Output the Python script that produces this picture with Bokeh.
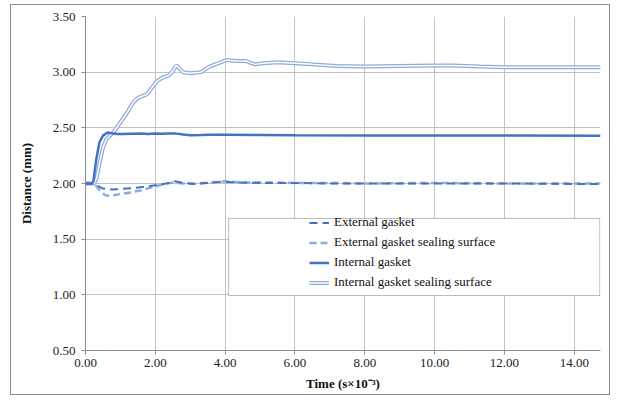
from bokeh.plotting import figure
from bokeh.models import (Range1d, Legend, LegendItem, BoxAnnotation, FixedTicker,
                          NumeralTickFormatter)
from bokeh.embed import file_html
from bokeh.resources import INLINE

# ---- data (time in s x 10^-3, distance in mm) ----
eg_t = [0, 0.25, 0.35, 0.5, 0.7, 1.0, 1.4, 1.8, 2.1, 2.4, 2.55, 2.8, 3.1, 3.5, 3.9,
        4.3, 5.0, 6.0, 7.0, 8.0, 10.0, 12.0, 14.75]
eg_y = [2.00, 2.00, 1.98, 1.955, 1.945, 1.95, 1.96, 1.975, 1.99, 2.005, 2.02, 2.005,
        1.995, 2.005, 2.015, 2.01, 2.005, 2.005, 2.0, 2.0, 2.0, 2.0, 1.995]

es_t = [0, 0.25, 0.35, 0.45, 0.6, 0.8, 1.0, 1.3, 1.6, 1.9, 2.2, 2.5, 2.8, 3.2, 3.6,
        4.0, 4.5, 5.0, 6.0, 7.0, 8.0, 10.0, 12.0, 14.75]
es_y = [2.00, 2.00, 1.96, 1.92, 1.89, 1.895, 1.905, 1.92, 1.94, 1.965, 1.99, 2.01,
        2.0, 2.0, 2.01, 2.02, 2.01, 2.01, 2.005, 2.005, 2.0, 2.005, 2.0, 2.0]

ig_t = [0, 0.15, 0.22, 0.31, 0.4, 0.5, 0.63, 0.75, 0.9, 1.1, 1.3, 1.6, 1.8, 2.0, 2.2,
        2.4, 2.6, 2.8, 3.0, 3.3, 3.6, 4.0, 5.0, 6.0, 8.0, 10.0, 12.0, 14.75]
ig_y = [2.00, 2.00, 2.01, 2.22, 2.37, 2.43, 2.458, 2.452, 2.445, 2.445, 2.447, 2.45,
        2.445, 2.45, 2.446, 2.45, 2.448, 2.44, 2.433, 2.435, 2.438, 2.437, 2.435,
        2.433, 2.432, 2.432, 2.431, 2.43]

is_t = [0, 0.25, 0.32, 0.4, 0.5, 0.6, 0.8, 1.0, 1.2, 1.35, 1.5, 1.75, 1.9, 2.05, 2.2,
        2.38, 2.5, 2.6, 2.7, 2.8, 3.0, 3.3, 3.55, 3.8, 4.05, 4.3, 4.6, 4.85, 5.1, 5.5,
        6.0, 6.5, 7.2, 8.0, 9.0, 10.0, 10.5, 11.3, 12.0, 13.0, 14.0, 14.75]
is_y = [2.0, 2.0, 2.05, 2.18, 2.32, 2.40, 2.46, 2.55, 2.64, 2.72, 2.77, 2.80, 2.86,
        2.92, 2.95, 2.97, 3.01, 3.06, 3.03, 3.00, 2.99, 3.00, 3.05, 3.08, 3.11, 3.10,
        3.10, 3.07, 3.08, 3.09, 3.08, 3.07, 3.055, 3.05, 3.055, 3.06, 3.06, 3.05,
        3.045, 3.045, 3.045, 3.045]

x_ticks = [0, 2, 4, 6, 8, 10, 12, 14]
y_ticks = [0.5, 1.0, 1.5, 2.0, 2.5, 3.0, 3.5]
labels = ["External gasket", "External gasket sealing surface",
          "Internal gasket", "Internal gasket sealing surface"]

FONT = "Liberation Serif"
DARK = "#4472C4"
LIGHT = "#8FAADC"

p = figure(width=600, height=391, output_backend="svg", toolbar_location=None,
           x_range=Range1d(0, 14.75), y_range=Range1d(0.5, 3.5),
           min_border_left=74, min_border_right=11, min_border_top=11,
           min_border_bottom=46)
p.styles = {"border": "1px solid #8c8c8c", "margin-left": "10px", "margin-top": "4px"}
p.outline_line_color = None
p.background_fill_color = "white"

for ax in (p.xaxis[0], p.yaxis[0]):
    ax.axis_line_color = "#8c8c8c"
    ax.major_tick_line_color = "#8c8c8c"
    ax.major_tick_out = 4
    ax.major_tick_in = 0
    ax.minor_tick_line_color = None
    ax.major_label_text_font = FONT
    ax.major_label_text_font_size = "13px"
    ax.major_label_text_color = "#222222"
    ax.axis_label_text_font = FONT
    ax.axis_label_text_font_size = "13px"
    ax.axis_label_text_font_style = "bold"
    ax.axis_label_text_color = "#111111"
    ax.formatter = NumeralTickFormatter(format="0.00")

p.xaxis.ticker = FixedTicker(ticks=x_ticks)
p.yaxis.ticker = FixedTicker(ticks=y_ticks)
p.xaxis.axis_label = "Time (s×10⁻³)"
p.yaxis.axis_label = "Distance (mm)"
p.yaxis.axis_label_standoff = 16
p.xaxis.axis_label_standoff = 6
p.xaxis.major_label_standoff = 4
p.yaxis.major_label_standoff = 6

p.xgrid.grid_line_color = "#c4c4c4"
p.ygrid.grid_line_color = "#c4c4c4"

r_is_outer = p.line(is_t, is_y, line_color=LIGHT, line_width=4)
r_is_inner = p.line(is_t, is_y, line_color="white", line_width=1.5)
r_es = p.line(es_t, es_y, line_color=LIGHT, line_width=2.5, line_dash="7 4")
r_eg = p.line(eg_t, eg_y, line_color=DARK, line_width=2, line_dash="8 5")
r_ig = p.line(ig_t, ig_y, line_color=DARK, line_width=2.5)

box = BoxAnnotation(left=4.10, right=14.73, top=1.686, bottom=0.994,
                    fill_color="white", fill_alpha=1.0,
                    line_color="#222222", line_width=1)
p.add_layout(box)

legend = Legend(items=[
    LegendItem(label=labels[0], renderers=[r_eg]),
    LegendItem(label=labels[1], renderers=[r_es]),
    LegendItem(label=labels[2], renderers=[r_ig]),
    LegendItem(label=labels[3], renderers=[r_is_outer, r_is_inner]),
], location=(224, 60), orientation="vertical")
legend.border_line_color = None
legend.background_fill_alpha = 0
legend.padding = 0
legend.margin = 0
legend.spacing = 4
legend.glyph_width = 20
legend.glyph_height = 15
legend.label_height = 15
legend.label_standoff = 5
legend.label_text_font = FONT
legend.label_text_font_size = "13px"
legend.label_text_color = "#111111"
p.add_layout(legend, "center")

open("out.html", "w").write(file_html(p, INLINE))
